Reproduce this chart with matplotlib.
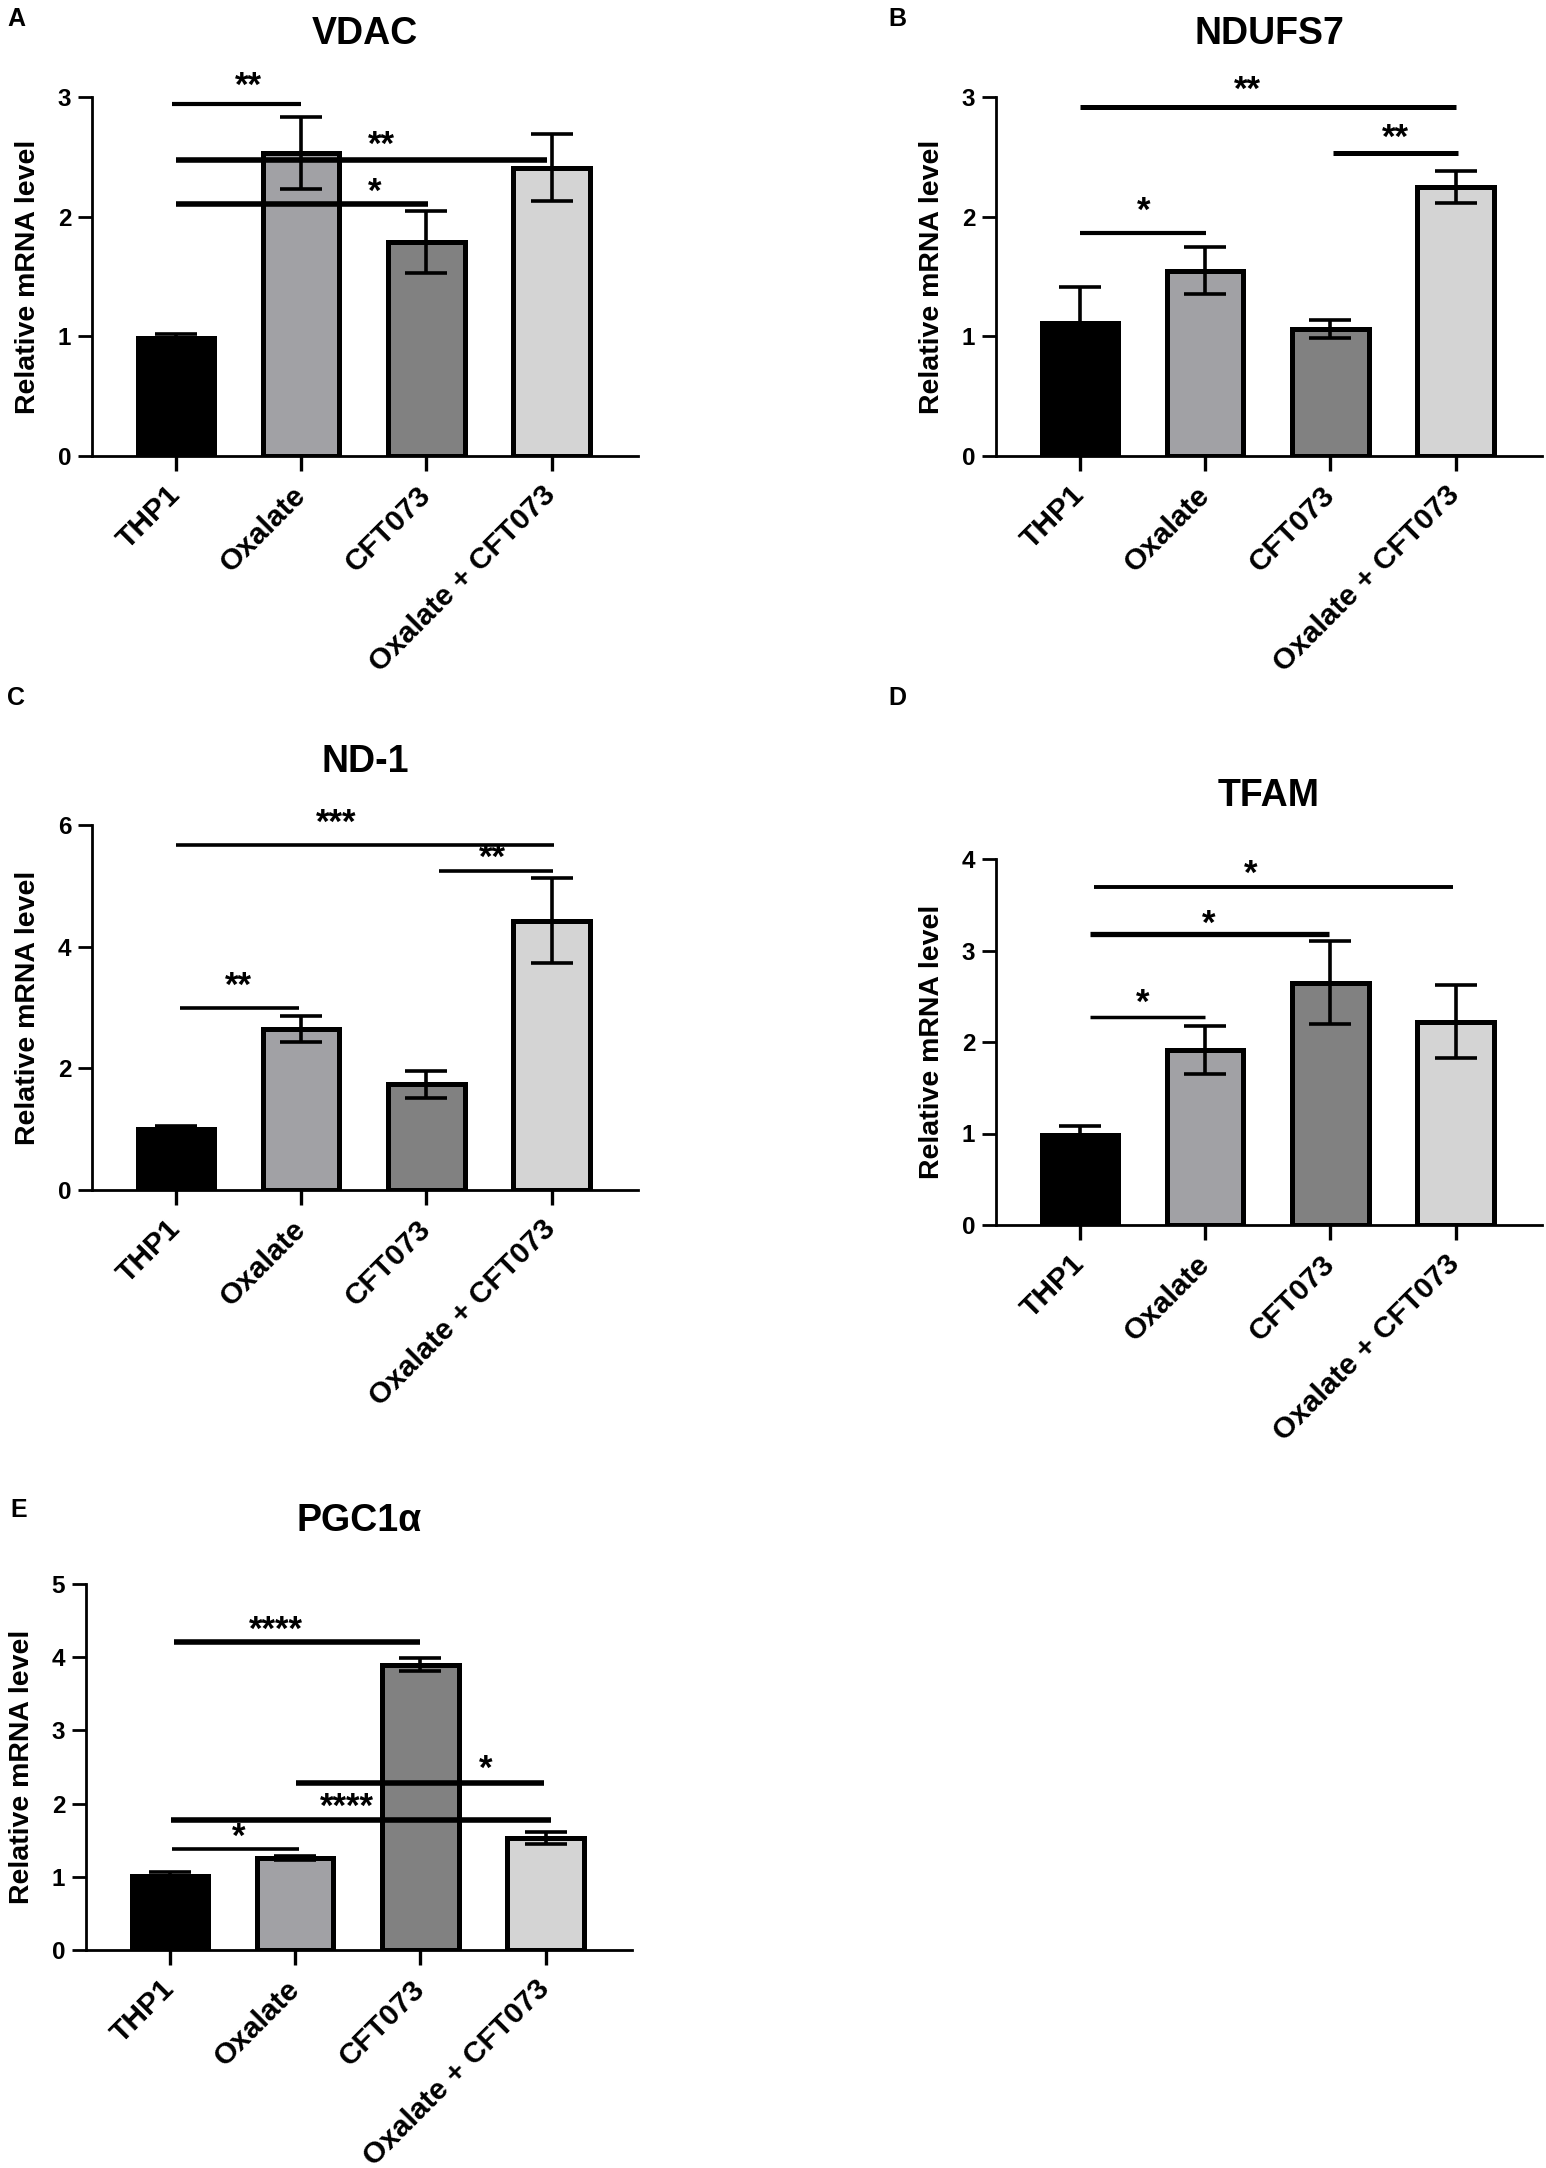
import matplotlib
matplotlib.use("Agg")
import matplotlib.pyplot as plt
import numpy as np

plt.rcParams['font.family'] = ['Liberation Sans', 'DejaVu Sans']
plt.rcParams['font.weight'] = 'bold'

# ---------------- data ----------------
categories = ["THP1", "Oxalate", "CFT073", "Oxalate + CFT073"]

vdac_mean = [0.99, 2.53, 1.79, 2.41]
vdac_err = [0.03, 0.30, 0.26, 0.28]

ndufs7_mean = [1.11, 1.55, 1.06, 2.25]
ndufs7_err = [0.30, 0.20, 0.075, 0.135]

nd1_mean = [1.00, 2.65, 1.74, 4.43]
nd1_err = [0.06, 0.21, 0.22, 0.70]

tfam_mean = [0.98, 1.91, 2.65, 2.22]
tfam_err = [0.10, 0.26, 0.45, 0.40]

pgc_mean = [1.01, 1.26, 3.90, 1.53]
pgc_err = [0.06, 0.03, 0.09, 0.08]

# significance: (x_start, x_end, y_line, label, x_star_centre, y_star_centre)
vdac_sig = [(-0.03, 1.0, 2.94, "**", 0.58, 3.10),
            (0.0, 2.96, 2.475, "**", 1.64, 2.60),
            (0.0, 2.01, 2.11, "*", 1.59, 2.21)]
ndufs7_sig = [(0.0, 3.0, 2.92, "**", 1.34, 3.06),
              (2.02, 3.02, 2.53, "**", 2.52, 2.66),
              (0.0, 1.01, 1.86, "*", 0.51, 2.05)]
nd1_sig = [(0.0, 3.02, 5.67, "***", 1.28, 6.05),
           (2.1, 3.01, 5.25, "**", 2.53, 5.47),
           (0.03, 0.98, 3.0, "**", 0.5, 3.36)]
tfam_sig = [(0.11, 2.98, 3.69, "*", 1.36, 3.84),
            (0.08, 1.99, 3.18, "*", 1.03, 3.30),
            (0.08, 1.0, 2.27, "*", 0.5, 2.43)]
pgc_sig = [(0.03, 2.0, 4.21, "****", 0.85, 4.38),
           (1.01, 2.99, 2.28, "*", 2.52, 2.48),
           (0.01, 3.04, 1.77, "****", 1.41, 1.96),
           (0.02, 1.03, 1.38, "*", 0.55, 1.55)]

titles = ["VDAC", "NDUFS7", "ND-1", "TFAM", "PGC1α"]
panel_letters = ["A", "B", "C", "D", "E"]
yticks_list = [[0, 1, 2, 3], [0, 1, 2, 3], [0, 2, 4, 6], [0, 1, 2, 3, 4], [0, 1, 2, 3, 4, 5]]

# ---------------- style ----------------
bar_colors = ["#000000", "#A1A1A5", "#818181", "#D4D4D4"]
W, H = 1546, 2168
fig = plt.figure(figsize=(W / 100, H / 100), dpi=100)

# axes boxes in pixels: left, top, right, bottom
boxes = [(92, 97, 638, 456), (996, 97, 1542, 456),
         (92, 825, 638, 1190), (996, 859, 1542, 1225),
         (86, 1584, 632, 1950)]
letter_pos = [(7, 19), (888, 19), (7, 698), (888, 698), (10, 1510)]
sig_lw = [[3.0, 4.0, 4.0], [3.6, 3.6, 3.0], [2.6, 2.6, 2.6], [2.8, 3.8, 2.5], [4.0, 4.0, 4.0, 2.6]]
star_fs = 25

means = [vdac_mean, ndufs7_mean, nd1_mean, tfam_mean, pgc_mean]
errs = [vdac_err, ndufs7_err, nd1_err, tfam_err, pgc_err]
sigs = [vdac_sig, ndufs7_sig, nd1_sig, tfam_sig, pgc_sig]

x = np.arange(len(categories))
for i in range(5):
    l, t, r, b = boxes[i]
    ax = fig.add_axes([l / W, 1 - b / H, (r - l) / W, (b - t) / H])
    ax.bar(x, means[i], width=0.61, color=bar_colors, edgecolor="black",
           linewidth=3.6, zorder=2)
    ax.errorbar(x, means[i], yerr=errs[i], fmt="none", ecolor="black",
                elinewidth=2.6, capsize=15, capthick=2.6, zorder=3)
    for j, (xa, xb, yl, lab, xt, yt) in enumerate(sigs[i]):
        ax.plot([xa, xb], [yl, yl], color="black", lw=sig_lw[i][j],
                solid_capstyle="butt", zorder=4, clip_on=False)
        ax.annotate(lab, xy=(xt, yt), xytext=(0, -0.30 * star_fs),
                    textcoords="offset points", ha="center", va="baseline",
                    fontsize=star_fs, fontweight="bold", zorder=5,
                    annotation_clip=False)
    yt_ = yticks_list[i]
    ax.set_ylim(0, yt_[-1])
    ax.set_yticks(yt_)
    ax.set_xlim(-0.67, 3.69)
    ax.set_xticks(x)
    ax.set_xticklabels(categories, rotation=45, ha="right", va="center",
                       rotation_mode="anchor", fontsize=21.5, fontweight="bold")
    for lab in ax.get_yticklabels():
        lab.set_fontsize(17.5)
        lab.set_fontweight("bold")
    ax.spines["top"].set_visible(False)
    ax.spines["right"].set_visible(False)
    ax.spines["left"].set_linewidth(2.0)
    ax.spines["bottom"].set_linewidth(2.0)
    ax.tick_params(axis="y", length=10, width=2.0, pad=5)
    ax.tick_params(axis="x", length=11, width=2.4, pad=14)
    ax.set_ylabel("Relative mRNA level", fontsize=20.5, fontweight="bold", labelpad=12)
    ax.set_title(titles[i], fontsize=27, fontweight="bold", pad=38)
    lx, ly = letter_pos[i]
    fig.text(lx / W, 1 - ly / H, panel_letters[i], fontsize=18, fontweight="bold",
             ha="left", va="center")

fig.savefig("out.png", dpi=100, facecolor="white")
